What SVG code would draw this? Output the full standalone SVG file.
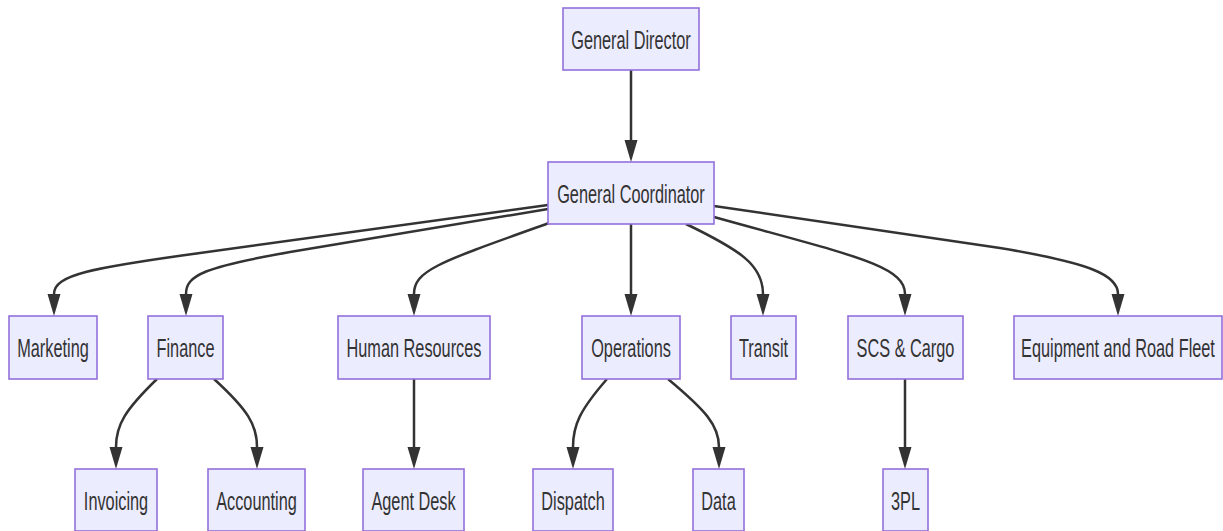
<svg xmlns="http://www.w3.org/2000/svg" width="1223" height="531" viewBox="0 0 1223 531">
<style>
.node rect{fill:#ECECFF;stroke:#9370DB;stroke-width:1.6}
.node text{font-family:"Liberation Sans",Arial,sans-serif;font-size:16.3px;fill:#333333;text-anchor:middle}
.edge{fill:none;stroke:#333333;stroke-width:2.5}
</style>
<defs>
<marker id="arr" markerUnits="userSpaceOnUse" markerWidth="24" markerHeight="14" refX="0" refY="6.5" orient="auto">
<path d="M0,0 L22,6.5 L0,13 z" fill="#333333"/>
</marker>
</defs>
<rect width="1223" height="531" fill="#ffffff"/>
<g id="connectors">
<path class="edge" marker-end="url(#arr)" d="M631,70 L631,140"/>
<path class="edge" marker-end="url(#arr)" d="M548,205 L200,253 C90,268 54,275 54,294"/>
<path class="edge" marker-end="url(#arr)" d="M548,209 L290,252 C205,267 186,275 186,294"/>
<path class="edge" marker-end="url(#arr)" d="M552,222 C440,262 414,270 414,294"/>
<path class="edge" marker-end="url(#arr)" d="M631,224 L631,294"/>
<path class="edge" marker-end="url(#arr)" d="M686,224 C740,250 763,265 763,294"/>
<path class="edge" marker-end="url(#arr)" d="M714,217 C850,255 905,265 905,294"/>
<path class="edge" marker-end="url(#arr)" d="M714,206 L1000,248 C1090,263 1118,275 1118,294"/>
<path class="edge" marker-end="url(#arr)" d="M157,379 C125,410 116,425 116,447"/>
<path class="edge" marker-end="url(#arr)" d="M214,379 C248,410 257,425 257,447"/>
<path class="edge" marker-end="url(#arr)" d="M414,379 L414,447"/>
<path class="edge" marker-end="url(#arr)" d="M607,379 C580,410 573,425 573,447"/>
<path class="edge" marker-end="url(#arr)" d="M668,379 C705,410 719,425 719,447"/>
<path class="edge" marker-end="url(#arr)" d="M905,379 L905,447"/>
</g>
<g id="gd" class="node"><rect x="563" y="8" width="136" height="62"/><text transform="translate(631,39) scale(1,1.6)" y="6.2">General Director</text></g>
<g id="gc" class="node"><rect x="548" y="162" width="166" height="62"/><text transform="translate(631,193) scale(1,1.6)" y="6.2">General Coordinator</text></g>
<g id="marketing" class="node"><rect x="9" y="316" width="88" height="63"/><text transform="translate(53,347.5) scale(1,1.6)" y="6.2">Marketing</text></g>
<g id="finance" class="node"><rect x="148" y="316" width="75" height="63"/><text transform="translate(185.5,347.5) scale(1,1.6)" y="6.2">Finance</text></g>
<g id="hr" class="node"><rect x="338" y="316" width="152" height="63"/><text transform="translate(414,347.5) scale(1,1.6)" y="6.2">Human Resources</text></g>
<g id="operations" class="node"><rect x="582" y="316" width="98" height="63"/><text transform="translate(631,347.5) scale(1,1.6)" y="6.2">Operations</text></g>
<g id="transit" class="node"><rect x="731" y="316" width="65" height="63"/><text transform="translate(763.5,347.5) scale(1,1.6)" y="6.2">Transit</text></g>
<g id="scs" class="node"><rect x="848" y="316" width="115" height="63"/><text transform="translate(905.5,347.5) scale(1,1.6)" y="6.2">SCS &amp; Cargo</text></g>
<g id="equipment" class="node"><rect x="1014" y="316" width="208" height="63"/><text transform="translate(1118,347.5) scale(1,1.6)" y="6.2">Equipment and Road Fleet</text></g>
<g id="invoicing" class="node"><rect x="75" y="469" width="82" height="62"/><text transform="translate(116,500) scale(1,1.6)" y="6.2">Invoicing</text></g>
<g id="accounting" class="node"><rect x="208" y="469" width="97" height="62"/><text transform="translate(256.5,500) scale(1,1.6)" y="6.2">Accounting</text></g>
<g id="agentdesk" class="node"><rect x="363" y="469" width="101" height="62"/><text transform="translate(413.5,500) scale(1,1.6)" y="6.2">Agent Desk</text></g>
<g id="dispatch" class="node"><rect x="533" y="469" width="80" height="62"/><text transform="translate(573,500) scale(1,1.6)" y="6.2">Dispatch</text></g>
<g id="data" class="node"><rect x="693" y="469" width="51" height="62"/><text transform="translate(718.5,500) scale(1,1.6)" y="6.2">Data</text></g>
<g id="tpl" class="node"><rect x="883" y="469" width="45" height="62"/><text transform="translate(905.5,500) scale(1,1.6)" y="6.2">3PL</text></g>
</svg>
